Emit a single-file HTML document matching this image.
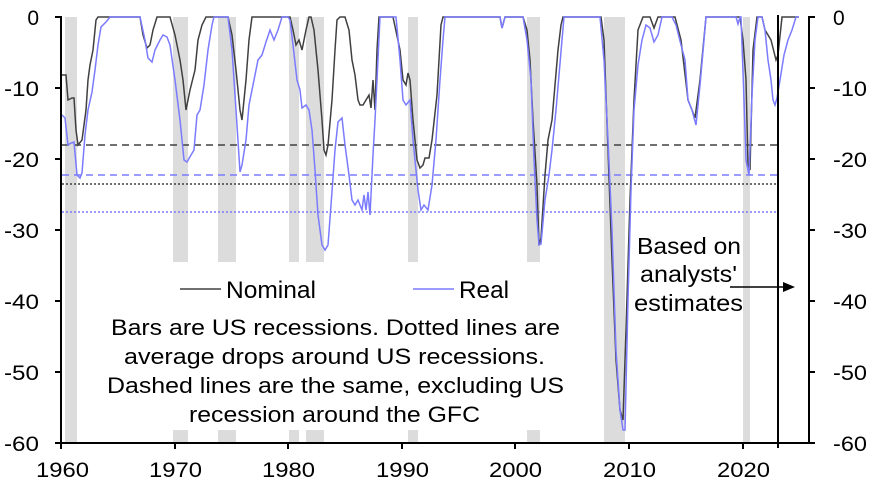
<!DOCTYPE html>
<html><head><meta charset="utf-8"><style>
body{margin:0;background:#fff}
svg{display:block;font-family:"Liberation Sans",Arial,sans-serif}
</style></head><body>
<svg width="877" height="486" viewBox="0 0 877 486" xmlns="http://www.w3.org/2000/svg">
<g fill="#dcdcdc">
<rect x="65" y="17" width="12" height="426"/>
<rect x="173" y="17" width="15" height="245"/><rect x="173" y="430" width="15" height="13"/>
<rect x="218" y="17" width="18" height="245"/><rect x="218" y="430" width="18" height="13"/>
<rect x="289" y="17" width="10" height="245"/><rect x="289" y="430" width="10" height="13"/>
<rect x="306" y="17" width="18" height="245"/><rect x="306" y="430" width="18" height="13"/>
<rect x="408" y="17" width="10" height="245"/><rect x="408" y="430" width="10" height="13"/>
<rect x="527" y="17" width="13" height="245"/><rect x="527" y="430" width="13" height="13"/>
<rect x="604" y="17" width="21" height="426"/>
<rect x="743" y="17" width="7" height="426"/>
</g>
<g stroke-width="1.5" fill="none">
<line x1="62" x2="778" y1="145" y2="145" stroke="#404040" stroke-dasharray="7,5"/>
<line x1="62" x2="778" y1="175" y2="175" stroke="#7b7bff" stroke-dasharray="7,5"/>
<line x1="62" x2="778" y1="184" y2="184" stroke="#404040" stroke-dasharray="2,2"/>
<line x1="62" x2="778" y1="212" y2="212" stroke="#7b7bff" stroke-dasharray="2,2"/>
</g>
<polyline fill="none" stroke="#404040" stroke-width="1.5" points="62,75 66,75 68,100 72,98 74,98 76,130 78,145 82,140 86,110 88,80 90,65 93,50 96,20 98,17 140,17 143,35 147,48 150,45 153,30 157,17 170,17 175,35 180,60 183,80 186,110 190,90 195,70 198,40 202,25 206,17 228,17 232,35 236,70 240,110 242,120 246,80 249,40 252,17 290,17 293,30 296,45 299,40 302,50 306,30 309,17 311,17 314,30 318,70 322,120 324,150 326,155 328,145 332,100 335,50 337,20 340,17 345,17 349,30 352,60 355,75 358,100 360,105 363,105 366,100 369,95 371,108 373,80 375,110 377,50 379,17 393,17 400,50 403,80 406,85 408,73 410,80 413,120 417,160 420,168 423,165 425,158 429,158 432,140 437,95 441,25 443,17 500,17 502,28 505,17 523,17 527,30 530,60 533,120 537,185 539,245 541,238 545,175 548,140 552,120 555,85 558,50 561,25 563,17 601,17 604,40 608,150 612,260 616,360 620,410 623,420 626,330 630,200 634,100 638,30 643,17 650,17 654,28 658,17 675,17 681,40 688,100 692,110 695,118 700,80 706,17 740,17 743,40 746,80 748,165 750,170 753,50 757,17 762,17 765,30 771,40 776,60 778,55 782,17 799,17"/>
<polyline fill="none" stroke="#7b7bff" stroke-width="1.5" points="62,115 65,118 68,145 71,143 74,142 77,175 80,178 82,173 85,135 88,110 92,92 95,70 98,45 101,27 106,22 110,17 140,17 145,40 148,58 152,62 155,50 160,40 163,35 167,37 170,45 175,80 180,120 184,160 187,162 191,155 194,150 197,115 200,110 204,85 208,50 212,25 214,17 228,17 232,50 236,110 240,172 242,165 246,140 249,105 254,80 258,60 262,55 266,42 270,30 274,40 278,30 282,17 288,17 290,20 293,45 297,80 300,90 302,108 306,105 309,110 312,130 315,170 318,215 322,245 325,250 328,245 331,205 335,150 338,122 342,118 345,145 349,175 352,200 355,205 358,200 362,210 364,195 366,210 368,192 370,215 373,155 375,120 377,80 380,17 396,17 400,60 403,100 406,105 410,100 413,140 418,190 421,210 424,205 428,210 432,185 436,140 440,80 443,40 445,17 500,17 502,28 505,17 523,17 527,40 531,80 534,160 537,220 539,245 541,244 545,200 549,175 552,150 556,110 559,75 562,40 564,17 600,17 604,60 608,140 612,230 616,350 620,410 623,430 625,430 628,300 631,190 634,110 638,65 642,40 646,25 650,28 654,42 658,35 662,17 672,17 676,25 681,45 685,60 688,100 692,110 696,125 700,85 704,40 706,17 736,17 738,24 740,17 741,17 744,100 746,160 749,175 752,95 755,40 758,17 762,17 765,30 768,60 771,80 773,100 775,105 777,98 780,80 784,55 788,40 792,30 796,17 799,17"/>
<g stroke="#000" stroke-width="2" fill="none">
<line x1="61" y1="16" x2="61" y2="443"/>
<line x1="809" y1="16" x2="809" y2="443"/>
<line x1="60" y1="443" x2="810" y2="443"/>
<line x1="778" y1="15" x2="778" y2="448"/>
<path d="M55,17H61M55,88H61M55,159H61M55,230H61M55,301H61M55,372H61M55,443H61"/>
<path d="M809,17H815M809,88H815M809,159H815M809,230H815M809,301H815M809,372H815M809,443H815"/>
<path d="M61,443V449M175,443V449M288,443V449M402,443V449M515,443V449M629,443V449M743,443V449"/>
<line x1="730" y1="287" x2="785" y2="287" stroke-width="1.5"/>
</g>
<polygon points="783,282 795,287 783,292" fill="#000"/>
<g font-size="21" fill="#000" lengthAdjust="spacingAndGlyphs">
<g text-anchor="end"><text x="39" y="25">0</text><text x="39" y="96" textLength="35" lengthAdjust="spacingAndGlyphs">-10</text><text x="39" y="167" textLength="35" lengthAdjust="spacingAndGlyphs">-20</text><text x="39" y="238" textLength="35" lengthAdjust="spacingAndGlyphs">-30</text><text x="39" y="309" textLength="35" lengthAdjust="spacingAndGlyphs">-40</text><text x="39" y="380" textLength="35" lengthAdjust="spacingAndGlyphs">-50</text><text x="39" y="451" textLength="35" lengthAdjust="spacingAndGlyphs">-60</text></g>
<g text-anchor="start"><text x="833" y="25">0</text><text x="833" y="96" textLength="34" lengthAdjust="spacingAndGlyphs">-10</text><text x="833" y="167" textLength="34" lengthAdjust="spacingAndGlyphs">-20</text><text x="833" y="238" textLength="34" lengthAdjust="spacingAndGlyphs">-30</text><text x="833" y="309" textLength="34" lengthAdjust="spacingAndGlyphs">-40</text><text x="833" y="380" textLength="34" lengthAdjust="spacingAndGlyphs">-50</text><text x="833" y="451" textLength="34" lengthAdjust="spacingAndGlyphs">-60</text></g>
<text x="36" y="477" textLength="53" lengthAdjust="spacingAndGlyphs">1960</text>
<text x="149" y="477" textLength="53" lengthAdjust="spacingAndGlyphs">1970</text>
<text x="262" y="477" textLength="53" lengthAdjust="spacingAndGlyphs">1980</text>
<text x="376" y="477" textLength="53" lengthAdjust="spacingAndGlyphs">1990</text>
<text x="489" y="477" textLength="53" lengthAdjust="spacingAndGlyphs">2000</text>
<text x="603" y="477" textLength="53" lengthAdjust="spacingAndGlyphs">2010</text>
<text x="717" y="477" textLength="53" lengthAdjust="spacingAndGlyphs">2020</text>
</g>
<g font-size="22" fill="#000">
<text x="111" y="335" textLength="449" lengthAdjust="spacingAndGlyphs">Bars are US recessions. Dotted lines are</text>
<text x="124" y="364" textLength="421" lengthAdjust="spacingAndGlyphs">average drops around US recessions.</text>
<text x="107" y="393" textLength="457" lengthAdjust="spacingAndGlyphs">Dashed lines are the same, excluding US</text>
<text x="189" y="422" textLength="291" lengthAdjust="spacingAndGlyphs">recession around the GFC</text>
</g>
<g font-size="23" fill="#000">
<text x="637" y="254" textLength="104" lengthAdjust="spacingAndGlyphs">Based on</text>
<text x="640" y="282" textLength="97" lengthAdjust="spacingAndGlyphs">analysts'</text>
<text x="634" y="311" textLength="109" lengthAdjust="spacingAndGlyphs">estimates</text>
</g>
<line x1="180" y1="289" x2="221" y2="289" stroke="#404040" stroke-width="1.5"/>
<text x="226" y="298" font-size="24" textLength="90" lengthAdjust="spacingAndGlyphs">Nominal</text>
<line x1="413" y1="289" x2="454" y2="289" stroke="#7b7bff" stroke-width="1.5"/>
<text x="459" y="298" font-size="24" textLength="50" lengthAdjust="spacingAndGlyphs">Real</text>
</svg>
</body></html>
